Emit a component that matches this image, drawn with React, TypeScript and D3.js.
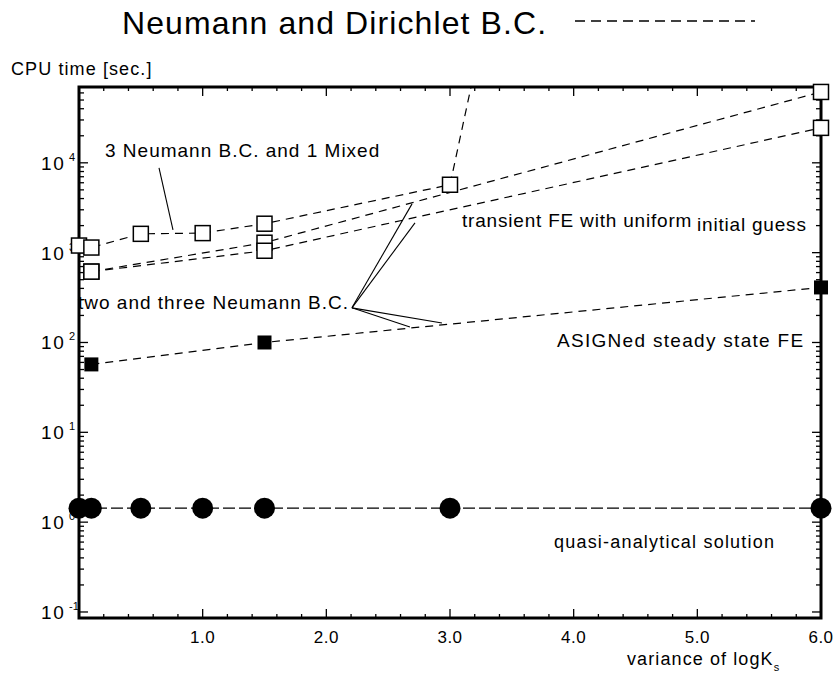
import React, { useEffect, useRef } from 'react';
import * as d3 from 'd3';

// values: variance of logKs (x) vs CPU time in sec (y)
const qaVariance = [0, 0.1, 0.5, 1.0, 1.5, 3.0, 6.0];
const qaCpu = [1.43, 1.43, 1.43, 1.43, 1.43, 1.43, 1.43];

// 3 Neumann B.C. and 1 Mixed (last point runs off the top of the plot)
const mixedVariance = [0, 0.1, 0.5, 1.0, 1.5, 3.0, 3.5];
const mixedCpu = [1200, 1140, 1620, 1650, 2100, 5700, 9e6];

// transient FE with uniform initial guess, two / three Neumann B.C.
const transientAVariance = [0.1, 1.5, 6.0];
const transientACpu = [615, 1290, 61500];
const transientBVariance = [0.1, 1.5, 6.0];
const transientBCpu = [615, 1050, 24500];

// ASIGNed steady state FE
const asignVariance = [0.1, 1.5, 6.0];
const asignCpu = [57, 100, 410];

const xTicks = [1, 2, 3, 4, 5, 6];
const xTickLabels = ['1.0', '2.0', '3.0', '4.0', '5.0', '6.0'];
const yDecades = [-1, 0, 1, 2, 3, 4];
const yDecadeLabels = ['-1', '0', '1', '2', '3', '4'];

// leader lines of the annotations, in data units
const mixedPointer = [[0.647, 8790], [0.76, 1795]];
const neumannApex = [2.207, 243];
const neumannTargets = [[2.693, 3493], [2.717, 2148], [2.935, 165], [2.676, 149]];

const zip = (a, b) => a.map((v, i) => [v, b[i]]);

const App = () => {
  const chart = useRef(null);

  useEffect(() => {
    const el = chart.current;
    el.innerHTML = '';
    const width = 834;
    const height = 679;
    const left = 79, right = 821, top = 87, bottom = 618;
    const font = '"Liberation Sans", Arial, Helvetica, sans-serif';

    const x = d3.scaleLinear().domain([0, 6]).range([left, right]);
    const y = d3.scaleLog().domain([Math.pow(10, -1.067), Math.pow(10, 4.844)]).range([bottom, top]);

    const svg = d3.select(el).append('svg')
      .attr('width', width)
      .attr('height', height)
      .style('position', 'absolute')
      .style('left', 0)
      .style('top', 0)
      .style('background', '#fff')
      .style('font-family', font);

    svg.append('defs').append('clipPath').attr('id', 'plotclip')
      .append('rect').attr('x', left).attr('y', top)
      .attr('width', right - left).attr('height', bottom - top);

    // title with its dashed line
    svg.append('text').attr('x', 122).attr('y', 34)
      .attr('font-size', 32).attr('letter-spacing', 1.1)
      .text('Neumann and Dirichlet B.C.');
    svg.append('line').attr('x1', 575).attr('x2', 755).attr('y1', 21).attr('y2', 21)
      .attr('stroke', '#000').attr('stroke-width', 1.3).attr('stroke-dasharray', '10,6');

    svg.append('text').attr('x', 11).attr('y', 75)
      .attr('font-size', 18).attr('letter-spacing', 1.1)
      .text('CPU time [sec.]');

    // ticks on all four sides, pointing in
    const ticks = svg.append('g').attr('stroke', '#000').attr('stroke-width', 1.3);
    d3.range(0, 31).forEach(i => {
      const v = i * 0.2;
      const len = i % 5 === 0 ? 9 : 4;
      ticks.append('line').attr('x1', x(v)).attr('x2', x(v)).attr('y1', bottom).attr('y2', bottom - len);
      ticks.append('line').attr('x1', x(v)).attr('x2', x(v)).attr('y1', top).attr('y2', top + len);
    });
    const [y0, y1] = y.domain();
    yDecades.forEach(d => {
      d3.range(1, 10).forEach(k => {
        const v = k * Math.pow(10, d);
        if (v < y0 || v > y1) return;
        const len = k === 1 ? 9 : 5;
        ticks.append('line').attr('x1', left).attr('x2', left + len).attr('y1', y(v)).attr('y2', y(v));
        ticks.append('line').attr('x1', right).attr('x2', right - len).attr('y1', y(v)).attr('y2', y(v));
      });
    });

    svg.append('rect').attr('x', left).attr('y', top)
      .attr('width', right - left).attr('height', bottom - top)
      .attr('fill', 'none').attr('stroke', '#000').attr('stroke-width', 3);

    // tick labels
    svg.selectAll('.xlab').data(xTicks).enter().append('text')
      .attr('x', d => x(d)).attr('y', 643)
      .attr('text-anchor', 'middle').attr('font-size', 17).attr('letter-spacing', 0.5)
      .text((d, i) => xTickLabels[i]);
    yDecades.forEach((d, i) => {
      const ty = y(Math.pow(10, d));
      svg.append('text').attr('x', 41).attr('y', ty + 7)
        .attr('font-size', 19).attr('letter-spacing', 1.8).text('10');
      svg.append('text').attr('x', 69).attr('y', ty - 2)
        .attr('font-size', 11).text(yDecadeLabels[i]);
    });

    const xl = svg.append('text').attr('x', 627).attr('y', 665)
      .attr('font-size', 18).attr('letter-spacing', 1.1);
    xl.append('tspan').text('variance of logK');
    xl.append('tspan').attr('font-size', 11).attr('dy', 6).text('s');

    // series lines
    const line = d3.line().x(d => x(d[0])).y(d => y(d[1]));
    const lines = svg.append('g').attr('clip-path', 'url(#plotclip)')
      .attr('fill', 'none').attr('stroke', '#000').attr('stroke-width', 1.2);
    [
      zip(mixedVariance, mixedCpu),
      zip(transientAVariance, transientACpu),
      zip(transientBVariance, transientBCpu),
      zip(asignVariance, asignCpu),
    ].forEach(pts => {
      lines.append('path').attr('d', line(pts)).attr('stroke-dasharray', '8,6');
    });
    lines.append('path').attr('d', line(zip(qaVariance, qaCpu))).attr('stroke-dasharray', '12,4');

    // leader lines
    const leaders = svg.append('g').attr('stroke', '#000').attr('stroke-width', 1.1).attr('fill', 'none');
    leaders.append('path').attr('d', line(mixedPointer));
    neumannTargets.forEach(t => {
      leaders.append('path').attr('d', line([neumannApex, t]));
    });

    // markers
    const inside = d => d[1] >= y0 && d[1] <= y1;
    svg.selectAll('.qa').data(zip(qaVariance, qaCpu)).enter().append('circle')
      .attr('cx', d => x(d[0])).attr('cy', d => y(d[1])).attr('r', 10.5).attr('fill', '#000');
    const openPts = [
      ...zip(mixedVariance, mixedCpu),
      ...zip(transientAVariance, transientACpu),
      ...zip(transientBVariance, transientBCpu),
    ].filter(inside);
    svg.selectAll('.open').data(openPts).enter().append('rect')
      .attr('x', d => x(d[0]) - 7.5).attr('y', d => y(d[1]) - 7.5)
      .attr('width', 15).attr('height', 15)
      .attr('fill', '#fff').attr('stroke', '#000').attr('stroke-width', 1.5);
    svg.selectAll('.filled').data(zip(asignVariance, asignCpu)).enter().append('rect')
      .attr('x', d => x(d[0]) - 7).attr('y', d => y(d[1]) - 7)
      .attr('width', 14).attr('height', 14).attr('fill', '#000');

    // annotations
    const note = (tx, ty, s, size = 19, ls = 1) =>
      svg.append('text').attr('x', tx).attr('y', ty)
        .attr('font-size', size).attr('letter-spacing', ls).text(s);
    note(105, 157, '3 Neumann B.C. and 1 Mixed');
    note(462, 227, 'transient FE with uniform', 19, 0.8);
    note(697, 231, 'initial guess', 19, 0.8);
    note(78, 309, 'two and three Neumann B.C.');
    note(557, 347, 'ASIGNed steady state FE', 19, 1.3);
    note(554, 548, 'quasi-analytical solution', 18, 1.2);
  }, []);

  return (
    <>
      <div ref={chart}></div>
    </>
  );
};

export default App;
